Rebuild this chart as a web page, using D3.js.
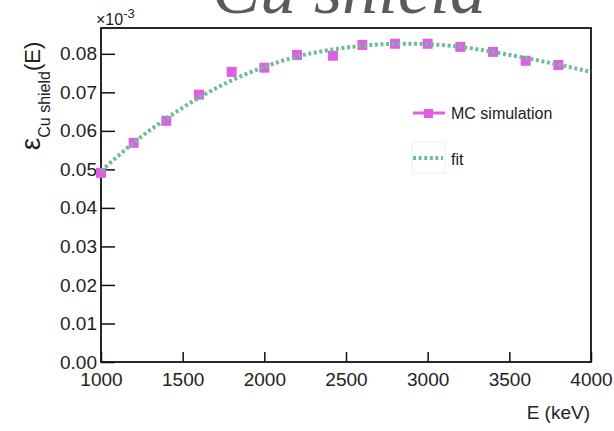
<!DOCTYPE html>
<html><head><meta charset="utf-8">
<script src="https://cdn.jsdelivr.net/npm/d3@7"></script>
<style>body{margin:0;background:#fff}svg{display:block}</style>
</head><body>
<script>
// ---- data ----
const mcEnergy = [1000,1200,1400,1600,1800,2000,2200,2420,2600,2800,3000,3200,3400,3600,3800];
const mcEff    = [0.0491,0.0569,0.0626,0.0694,0.0753,0.0764,0.0797,0.0795,0.0823,0.0826,0.0826,0.0818,0.0805,0.0782,0.0771];
const fitEnergy = [1000,1200,1400,1600,1800,2000,2200,2400,2600,2800,3000,3200,3400,3600,3800,4000];
const fitEff    = [0.0496,0.0569,0.0632,0.0686,0.0731,0.0766,0.0793,0.0810,0.0821,0.0826,0.0825,0.0818,0.0805,0.0789,0.0772,0.0753];
const xTicks = [1000,1500,2000,2500,3000,3500,4000];
const yTicks = [0.00,0.01,0.02,0.03,0.04,0.05,0.06,0.07,0.08];
const legendLabels = ["MC simulation","fit"];

const W=614,H=431;
const L=101,R=591,T=28,B=362;
const svg=d3.select("body").append("svg").attr("width",W).attr("height",H);
const x=d3.scaleLinear().domain([1000,4000]).range([L,R]);
const y=d3.scaleLinear().domain([0,0.0867]).range([B,T]);
const sans="'Liberation Sans', Arial, Helvetica, sans-serif";
const magenta="#e15de6", green="#6dbd95";

// title (cut at top, as in the reference)
svg.append("text").attr("x",349).attr("y",13).attr("text-anchor","middle")
  .attr("font-family","'Liberation Serif', 'DejaVu Serif', serif").attr("font-style","italic")
  .attr("font-size",72).attr("fill","#5a5a5a").text("Cu shield");

// minor / major ticks (inside)
const gx=svg.append("g").attr("transform",`translate(0,${B})`);
gx.call(d3.axisBottom(x).tickValues(d3.range(1000,4001,100)).tickSize(-5).tickFormat(""))
gx.call(d3.axisBottom(x).tickValues(xTicks).tickSize(-10).tickFormat(""));
gx.selectAll("path").remove();
gx.selectAll("line").attr("stroke","#111").attr("stroke-width",1.5);
const xl=svg.append("g").attr("transform",`translate(0,${B})`)
  .call(d3.axisBottom(x).tickValues(xTicks).tickSize(0).tickPadding(11).tickFormat(d3.format("d")));
xl.select(".domain").remove();
xl.selectAll("text").attr("font-family",sans).attr("font-size",19).attr("fill","#222");

const gy=svg.append("g").attr("transform",`translate(${L},0)`);
gy.call(d3.axisLeft(y).tickValues(d3.range(0,0.0867,0.002)).tickSize(-7).tickFormat(""));
gy.call(d3.axisLeft(y).tickValues(yTicks).tickSize(-14).tickFormat(""));
gy.selectAll("path").remove();
gy.selectAll("line").attr("stroke","#111").attr("stroke-width",1.5);
const yl=svg.append("g").attr("transform",`translate(${L},0)`)
  .call(d3.axisLeft(y).tickValues(yTicks).tickSize(0).tickPadding(4).tickFormat(d3.format(".2f")));
yl.select(".domain").remove();
yl.selectAll("text").attr("font-family",sans).attr("font-size",19).attr("fill","#222");

// frame
svg.append("rect").attr("x",L).attr("y",T).attr("width",R-L).attr("height",B-T)
  .attr("fill","none").attr("stroke","#111").attr("stroke-width",1.8);

// x10^-3
const ex=svg.append("text").attr("x",96).attr("y",25).attr("font-family",sans).attr("font-size",16).attr("fill","#222");
ex.append("tspan").text("×10");
ex.append("tspan").attr("dy",-7).attr("font-size",13).text("-3");

// MC markers
svg.append("g").selectAll("rect").data(mcEnergy).join("rect")
  .attr("x",(d)=>x(d)-5).attr("y",(d,i)=>y(mcEff[i])-5).attr("width",10).attr("height",10)
  .attr("fill",magenta);

// fit
const line=d3.line().x(d=>x(d[0])).y(d=>y(d[1])).curve(d3.curveNatural);
svg.append("path").datum(fitEnergy.map((e,i)=>[e,fitEff[i]])).attr("d",line)
  .attr("fill","none").attr("stroke",green).attr("stroke-width",4).attr("stroke-dasharray","3 2.6");

// legend
svg.append("line").attr("x1",413).attr("x2",445).attr("y1",113).attr("y2",113).attr("stroke",magenta).attr("stroke-width",3);
svg.append("rect").attr("x",424).attr("y",109).attr("width",9).attr("height",9).attr("fill",magenta);
svg.append("text").attr("x",451).attr("y",119).attr("font-family",sans).attr("font-size",16).attr("fill","#222").text(legendLabels[0]);
svg.append("rect").attr("x",412).attr("y",142).attr("width",33).attr("height",31).attr("fill","none").attr("stroke","#eee");
svg.append("line").attr("x1",413).attr("x2",443).attr("y1",158).attr("y2",158).attr("stroke",green).attr("stroke-width",4).attr("stroke-dasharray","3 2.6");
svg.append("text").attr("x",451).attr("y",165).attr("font-family",sans).attr("font-size",16).attr("fill","#222").text(legendLabels[1]);

// axis titles
const yt=svg.append("text").attr("transform","translate(40,96) rotate(-90)").attr("text-anchor","middle")
  .attr("font-family",sans).attr("fill","#222");
yt.append("tspan").attr("font-size",28).text("ε");
yt.append("tspan").attr("font-size",16).attr("dy",10).text("Cu shield");
yt.append("tspan").attr("font-size",22).attr("dy",-10).text("(E)");
svg.append("text").attr("x",590).attr("y",419).attr("text-anchor","end").attr("font-family",sans)
  .attr("font-size",19).attr("fill","#222").text("E (keV)");
</script>
</body></html>
